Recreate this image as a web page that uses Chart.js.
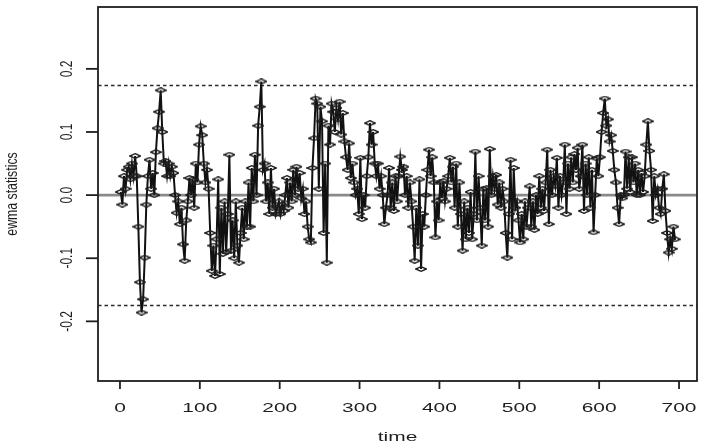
<!DOCTYPE html>
<html><head><meta charset="utf-8">
<script src="https://cdn.jsdelivr.net/npm/chart.js@4/dist/chart.umd.min.js"></script>
<style>html,body{margin:0;padding:0;background:#fff;}#wrap{width:704px;height:446px;position:relative;}</style>
</head><body><div id="wrap"><canvas id="c" width="704" height="446"></canvas></div>
<script>
// EWMA statistic, one value every 2 time units starting at time 1
const ewma = [
0.005,-0.015,0.03,0.01,0.04,0.045,0.025,0.05,0.03,0.062,
0.03,-0.05,-0.138,-0.186,-0.165,-0.099,-0.015,0.03,0.056,0.01,
0.035,0.0,0.068,0.106,0.132,0.166,0.1,0.05,0.054,0.03,
0.05,0.03,0.045,0.035,0.0,-0.028,-0.01,-0.046,-0.02,-0.078,
-0.104,-0.04,-0.01,0.027,0.0,0.025,-0.02,0.05,0.02,0.08,
0.109,0.095,0.05,0.02,0.04,0.01,-0.06,-0.12,-0.08,-0.128,
-0.07,0.025,-0.125,-0.02,-0.093,-0.01,-0.09,-0.03,0.064,-0.088,
-0.04,-0.1,-0.01,-0.08,-0.107,-0.06,-0.02,-0.07,-0.01,-0.05,
0.02,-0.05,0.043,-0.01,0.064,0.0,0.11,0.14,0.18,0.04,
0.05,-0.01,0.02,-0.03,0.043,-0.02,0.01,-0.03,-0.02,-0.01,
-0.03,-0.015,-0.025,0.0,0.027,-0.02,0.02,-0.01,0.04,0.0,
0.045,0.01,0.035,-0.005,0.01,-0.03,-0.01,-0.05,-0.07,-0.075,
0.043,0.09,0.153,0.145,0.01,0.14,0.117,-0.06,0.05,-0.107,
0.11,0.08,0.145,0.132,0.1,0.138,0.12,0.148,0.096,0.13,
0.085,0.06,0.04,0.082,0.027,0.05,0.02,0.0,0.01,-0.03,
0.059,-0.038,0.0,-0.02,0.03,0.06,0.114,0.08,0.1,0.05,
0.03,0.05,0.01,0.03,0.0,-0.046,-0.02,0.0,0.043,-0.02,
0.02,-0.025,0.03,-0.01,0.03,0.061,0.04,0.045,0.0,0.03,
-0.02,0.02,-0.01,-0.05,-0.104,-0.02,-0.08,0.025,-0.117,-0.03,
-0.05,0.0,0.04,0.072,0.03,0.06,0.02,-0.067,-0.01,-0.04,
0.02,-0.005,0.022,-0.01,0.01,0.03,0.059,0.02,0.045,-0.02,
0.05,-0.05,0.02,-0.03,-0.088,-0.01,-0.07,-0.02,-0.06,0.005,
-0.07,-0.03,0.069,-0.04,0.03,-0.02,-0.08,0.01,-0.04,0.011,
-0.05,0.073,0.0,0.03,0.01,0.032,-0.015,0.02,-0.02,0.01,
-0.01,-0.06,-0.099,-0.03,0.056,-0.07,0.043,-0.02,-0.01,-0.04,
-0.075,-0.03,-0.07,-0.01,-0.05,-0.02,0.014,-0.05,-0.01,-0.055,
0.0,-0.03,0.03,-0.02,0.01,-0.025,0.02,0.072,-0.046,0.04,
0.0,0.03,0.015,0.059,-0.02,0.03,0.0,0.02,0.08,-0.03,
0.05,0.01,0.06,0.02,0.065,0.04,0.075,0.01,0.03,0.08,
-0.025,0.05,0.0,0.06,-0.02,0.04,-0.059,0.0,0.058,0.03,
0.06,0.1,0.13,0.153,0.11,0.12,0.085,0.095,0.07,0.04,
0.02,-0.02,-0.046,0.0,-0.005,0.0,0.069,0.01,0.06,0.005,
0.06,0.02,0.05,0.0,0.04,0.0,0.035,0.005,0.03,0.08,
0.117,0.07,0.04,-0.041,0.03,0.0,0.01,-0.02,-0.03,0.01,
0.033,-0.025,-0.06,-0.091,-0.07,-0.085,-0.05,-0.07
];
const timeStart = 1, timeStep = 2;
const xTicks = [0,100,200,300,400,500,600,700];
const xTickLabels = ['0','100','200','300','400','500','600','700'];
const yTicks = [-0.2,-0.1,0.0,0.1,0.2];
const yTickLabels = ['-0.2','-0.1','0.0','0.1','0.2'];
const controlLimits = [-0.174, 0.174];
const centerLine = [0];
const xRange = [-27.5, 722.5];
const yRange = [-0.2945, 0.298];
const xTitle = 'time';
const yTitle = 'ewma statistics';

// open, flattened diamond marker
const mk = document.createElement('canvas');
mk.width = 12; mk.height = 6;
(function(){const g = mk.getContext('2d');g.strokeStyle='#1e1e1e';g.lineWidth=1.4;g.beginPath();
g.moveTo(6,0.7);g.lineTo(11.3,3);g.lineTo(6,5.3);g.lineTo(0.7,3);g.closePath();g.stroke();})();

const FONT = '"Liberation Sans", Arial, sans-serif';

function stretchedText(ctx, text, x, y, sx) {
  ctx.save(); ctx.translate(x, y); ctx.scale(sx, 1); ctx.fillText(text, 0, 0); ctx.restore();
}

const framePlugin = {
  id: 'frame',
  beforeDatasetsDraw(chart) {
    const {ctx, chartArea: a, scales: {x, y}} = chart;
    ctx.save();
    ctx.beginPath(); ctx.rect(a.left, a.top, a.right - a.left, a.bottom - a.top); ctx.clip();
    centerLine.forEach(v => {
      const py = y.getPixelForValue(v);
      ctx.strokeStyle = '#8a8a8a'; ctx.lineWidth = 2.8; ctx.setLineDash([]);
      ctx.beginPath(); ctx.moveTo(a.left, py); ctx.lineTo(a.right, py); ctx.stroke();
    });
    controlLimits.forEach(v => {
      const py = Math.round(y.getPixelForValue(v)) + 0.5;
      ctx.strokeStyle = '#2a2a2a'; ctx.lineWidth = 1.5; ctx.setLineDash([3.5, 3]);
      ctx.beginPath(); ctx.moveTo(a.left, py); ctx.lineTo(a.right, py); ctx.stroke();
    });
    ctx.restore();
  },
  afterDraw(chart) {
    const {ctx, chartArea: a, scales: {x, y}} = chart;
    ctx.save();
    ctx.setLineDash([]);
    ctx.strokeStyle = '#1e1e1e'; ctx.lineWidth = 1.8;
    ctx.strokeRect(a.left, a.top, a.right - a.left, a.bottom - a.top);
    // x ticks
    ctx.fillStyle = '#1e1e1e';
    ctx.font = '13.5px ' + FONT; ctx.textAlign = 'center'; ctx.textBaseline = 'middle';
    xTicks.forEach((v, i) => {
      const px = x.getPixelForValue(v);
      ctx.beginPath(); ctx.moveTo(px, a.bottom); ctx.lineTo(px, a.bottom + 8); ctx.stroke();
      stretchedText(ctx, xTickLabels[i], px, 408, 1.55);
    });
    stretchedText(ctx, xTitle, (a.left + a.right) / 2, 437, 1.55);
    // y ticks
    ctx.font = '12px ' + FONT;
    yTicks.forEach((v, i) => {
      const py = y.getPixelForValue(v);
      ctx.beginPath(); ctx.moveTo(a.left, py); ctx.lineTo(a.left - 12, py); ctx.stroke();
      ctx.save(); ctx.translate(67, py); ctx.rotate(-Math.PI / 2); ctx.scale(1, 1.4);
      ctx.fillText(yTickLabels[i], 0, 0); ctx.restore();
    });
    ctx.font = '12.3px ' + FONT;
    ctx.save(); ctx.translate(12, (a.top + a.bottom) / 2); ctx.rotate(-Math.PI / 2); ctx.scale(1, 1.4);
    ctx.fillText(yTitle, 0, 0); ctx.restore();
    ctx.restore();
  }
};

new Chart(document.getElementById('c'), {
  type: 'line',
  data: {
    datasets: [{
      data: ewma.map((v, i) => ({x: timeStart + i * timeStep, y: v})),
      borderColor: '#111',
      borderWidth: 2,
      tension: 0,
      pointStyle: mk,
      pointRadius: 5,
      pointHoverRadius: 5
    }]
  },
  options: {
    responsive: false,
    animation: false,
    devicePixelRatio: 1,
    layout: {padding: {left: 98, top: 5, right: 6, bottom: 65}},
    scales: {
      x: {type: 'linear', display: false, min: xRange[0], max: xRange[1]},
      y: {type: 'linear', display: false, min: yRange[0], max: yRange[1]}
    },
    plugins: {legend: {display: false}, tooltip: {enabled: false}}
  },
  plugins: [framePlugin]
});
</script>
</body></html>
